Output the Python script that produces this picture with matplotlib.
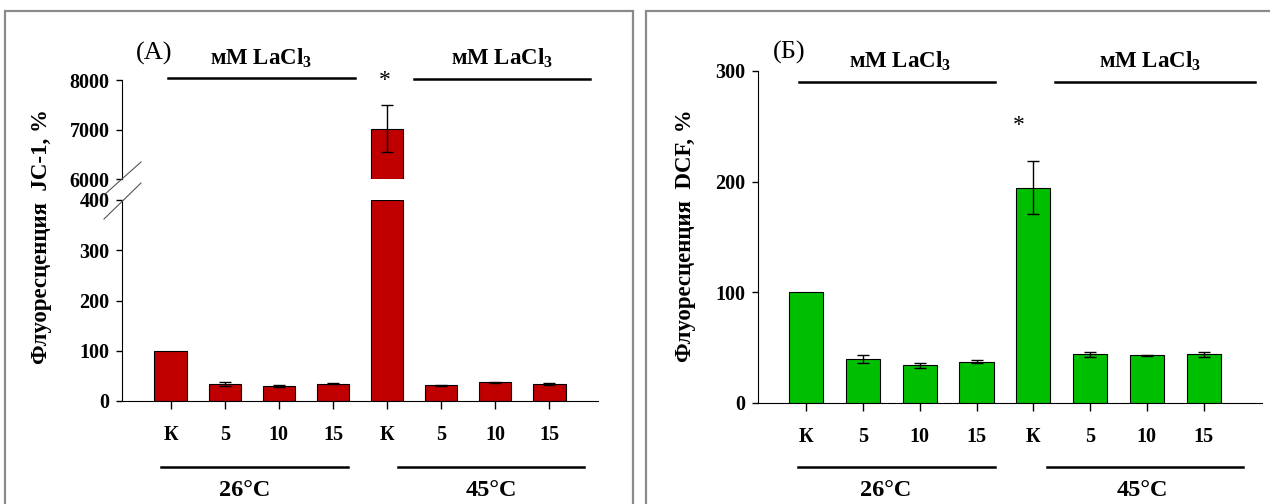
import numpy as np
import matplotlib.pyplot as plt
from matplotlib.lines import Line2D
from matplotlib.patches import Rectangle

plt.rcParams['font.family'] = ['Liberation Serif', 'DejaVu Serif']
plt.rcParams['mathtext.fontset'] = 'custom'
plt.rcParams['mathtext.rm'] = 'Liberation Serif:bold'

# Данные
labels = ['К', '5', '10', '15', 'К', '5', '10', '15']
jc1 = [100, 34, 29, 34, 7020, 31, 37, 34]
jc1_err = [0, 4, 2, 1, 470, 0.5, 1.5, 2.5]
dcf = [100, 39.5, 34, 37.5, 194.5, 44, 43, 44]
dcf_err = [0, 3.6, 2, 1.8, 24, 2, 0.5, 2]
groups = ['26°C', '45°C']
conc_label = 'мМ LaCl$_\\mathrm{3}$'

W, H = 1270, 504
RED = '#C00000'
GREEN = '#00BF00'
GRAY = '#8a8a8a'


def fx(x):
    return x / W


def fy(y):
    return 1 - y / H


def box(x0, y0, x1, y1):
    return [fx(x0), fy(y1), fx(x1) - fx(x0), fy(y0) - fy(y1)]


def style(ax, show_x=True):
    for s in ['top', 'right']:
        ax.spines[s].set_visible(False)
    ax.tick_params(axis='y', direction='out', length=4, width=1, pad=5, labelsize=14.5)
    ax.tick_params(axis='x', direction='out', length=6, width=1, pad=11, labelsize=14.5)
    for t in ax.get_yticklabels() + ax.get_xticklabels():
        t.set_fontweight('bold')
    if not show_x:
        ax.spines['bottom'].set_visible(False)
        ax.tick_params(axis='x', bottom=False, labelbottom=False)


def err(ax, x, vals, errs):
    # усы только там, где погрешность есть
    vals, errs = np.asarray(vals), np.asarray(errs)
    m = errs > 0
    ax.errorbar(x[m], vals[m], yerr=errs[m], fmt='none', ecolor='black',
                elinewidth=1, capsize=4, capthick=1)


fig = plt.figure(figsize=(12.7, 5.04), dpi=100)

# рамки панелей
fig.add_artist(Rectangle((fx(5), fy(520)), fx(628), fy(11) - fy(520),
                         transform=fig.transFigure, fill=False, ec=GRAY, lw=1.6))
fig.add_artist(Rectangle((fx(646), fy(520)), fx(640), fy(11) - fy(520),
                         transform=fig.transFigure, fill=False, ec=GRAY, lw=1.6))

x = np.arange(len(labels))

# ---- (A) JC-1, разрыв оси ----
ax_lo = fig.add_axes(box(122, 200, 598, 401))
ax_hi = fig.add_axes(box(122, 80, 598, 179))
lo_vals = np.minimum(jc1, 400)
ax_lo.bar(x, lo_vals, width=0.6, color=RED, edgecolor='black', linewidth=0.8)
err(ax_lo, x, jc1, jc1_err)
ax_lo.set_ylim(0, 400)
ax_lo.set_yticks([0, 100, 200, 300, 400])
ax_lo.set_xlim(-0.9, 7.9)
ax_lo.set_xticks(x)
ax_lo.set_xticklabels(labels)
style(ax_lo)

hi = np.array(jc1) > 6000
ax_hi.bar(x[hi], np.array(jc1)[hi] - 6000, bottom=6000, width=0.6, color=RED,
          edgecolor='black', linewidth=0.8)
err(ax_hi, x[hi], np.array(jc1)[hi], np.array(jc1_err)[hi])
ax_hi.set_ylim(6000, 8000)
ax_hi.set_yticks([6000, 7000, 8000])
ax_hi.set_xlim(-0.9, 7.9)
style(ax_hi, show_x=False)

# знаки разрыва
for (a, b) in [((104, 195), (141, 162)), ((104, 219), (141, 183))]:
    fig.add_artist(Line2D([fx(a[0]), fx(b[0])], [fy(a[1]), fy(b[1])],
                          transform=fig.transFigure, color='#555555', lw=0.8))

fig.text(fx(42), fy(237), 'Флуоресценция  JC-1, %', rotation=90, ha='center', va='center',
         fontsize=16.5, fontweight='bold')
fig.text(fx(154), fy(53), '(A)', ha='center', va='center', fontsize=19)
ax_hi.text(4 - 0.05, 8000, '*', ha='center', va='center', fontsize=17)

# ---- (Б) DCF ----
ax2 = fig.add_axes(box(758, 71, 1262, 403))
ax2.bar(x, dcf, width=0.6, color=GREEN, edgecolor='black', linewidth=0.8)
err(ax2, x, dcf, dcf_err)
ax2.set_ylim(0, 300)
ax2.set_yticks([0, 100, 200, 300])
ax2.set_xlim(-0.85, 8.03)
ax2.set_xticks(x)
ax2.set_xticklabels(labels)
style(ax2)
ax2.text(4 - 0.25, 251, '*', ha='center', va='center', fontsize=17)

fig.text(fx(685), fy(236), 'Флуоресценция  DCF, %', rotation=90, ha='center', va='center',
         fontsize=16.5, fontweight='bold')
fig.text(fx(789), fy(52), '(Б)', ha='center', va='center', fontsize=19)

# подписи групп сверху и снизу
top = [
    ((168, 355, 78), 261, 58),
    ((414, 590, 79), 502, 58),
    ((799, 995, 82), 900, 61),
    ((1055, 1255, 82), 1150, 61),
]
for (x0, x1, y), tx, ty in top:
    fig.add_artist(Line2D([fx(x0), fx(x1)], [fy(y), fy(y)], transform=fig.transFigure, color='black', lw=1.8))
    fig.text(fx(tx), fy(ty), conc_label, ha='center', va='center', fontsize=16.5, fontweight='bold')

bottom = [
    ((161, 348), 245, groups[0]),
    ((398, 584), 491, groups[1]),
    ((798, 995), 886, groups[0]),
    ((1047, 1243), 1142, groups[1]),
]
for (x0, x1), tx, g in bottom:
    fig.add_artist(Line2D([fx(x0), fx(x1)], [fy(467), fy(467)], transform=fig.transFigure, color='black', lw=1.8))
    fig.text(fx(tx), fy(491), g, ha='center', va='center', fontsize=17.5, fontweight='bold')

plt.savefig('out.png', dpi=100)
